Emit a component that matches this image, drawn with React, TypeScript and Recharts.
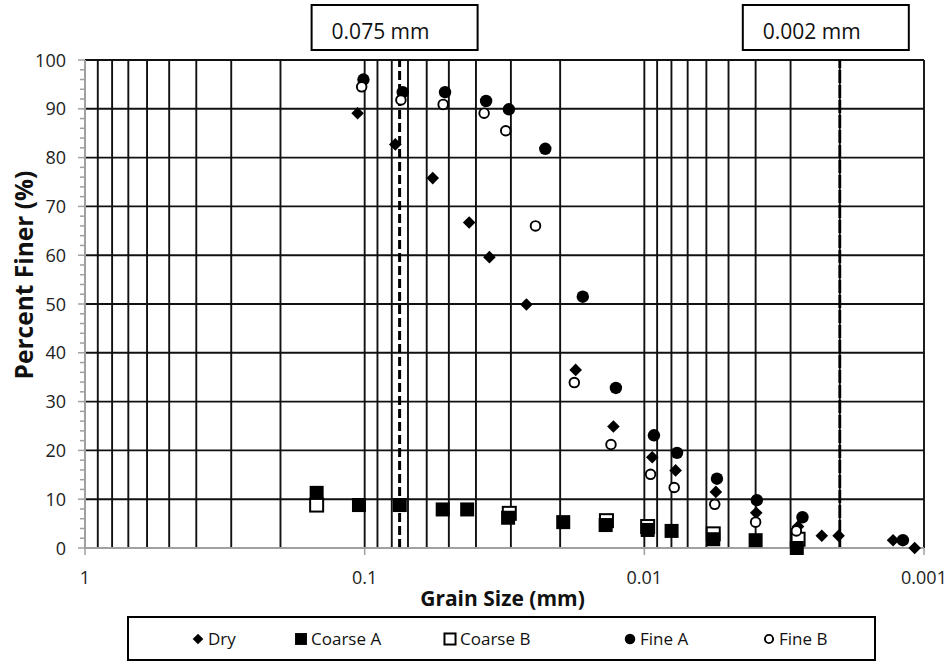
import React from 'react';
import {
  ScatterChart,
  Scatter,
  XAxis,
  YAxis,
  CartesianGrid,
  ReferenceLine,
  Legend,
} from 'recharts';

const FONT = '"Open Sans", "DejaVu Sans", sans-serif';
const INK = '#000000';
const AXIS_GREY = '#a0a0a0';
const GRID = '#111111';

// Grain size (mm) and percent finer for each specimen
const drySize = [0.106, 0.0777, 0.0571, 0.0423, 0.0358, 0.0264, 0.0176, 0.0129, 0.00937, 0.00773, 0.00555, 0.00398, 0.00282, 0.00232, 0.00202, 0.00129, 0.00108];
const dryFiner = [89.1, 82.7, 75.8, 66.7, 59.6, 49.9, 36.5, 24.9, 18.6, 15.9, 11.5, 7.2, 4.4, 2.5, 2.5, 1.6, 0];

const coarseASize = [0.1485, 0.1048, 0.0749, 0.0526, 0.043, 0.0307, 0.0195, 0.01375, 0.00973, 0.00799, 0.00567, 0.004, 0.00285];
const coarseAFiner = [11.3, 8.8, 8.8, 7.9, 7.9, 6.2, 5.3, 4.7, 3.7, 3.5, 1.8, 1.6, 0];

const coarseBSize = [0.1485, 0.0304, 0.01366, 0.00973, 0.00567, 0.00282];
const coarseBFiner = [8.8, 7.1, 5.6, 4.4, 2.9, 1.8];

const fineASize = [0.101, 0.0731, 0.0516, 0.0368, 0.0305, 0.0226, 0.0166, 0.01264, 0.00924, 0.00764, 0.0055, 0.00396, 0.00272, 0.00119];
const fineAFiner = [96.0, 93.4, 93.4, 91.6, 89.9, 81.8, 51.5, 32.8, 23.1, 19.5, 14.2, 9.8, 6.3, 1.6];

const fineBSize = [0.1025, 0.0742, 0.0524, 0.0374, 0.0313, 0.0245, 0.0178, 0.01316, 0.0095, 0.00782, 0.0056, 0.004, 0.00286];
const fineBFiner = [94.5, 91.8, 90.9, 89.1, 85.5, 66.0, 33.9, 21.2, 15.1, 12.4, 8.95, 5.3, 3.5];

// Axis ticks and grid positions
const xTicks = [1, 0.1, 0.01, 0.001];
const xTickLabels = ['1', '0.1', '0.01', '0.001'];
const xGridValues = [
  0.9, 0.8, 0.7, 0.6, 0.5, 0.4, 0.3, 0.2, 0.1,
  0.09, 0.08, 0.07, 0.06, 0.05, 0.04, 0.03, 0.02, 0.01,
  0.009, 0.008, 0.007, 0.006, 0.005, 0.004, 0.003, 0.002, 0.001,
];
const yMajorTicks = [0, 10, 20, 30, 40, 50, 60, 70, 80, 90, 100];
const yMinorTicks = [
  0, 2, 4, 6, 8, 10, 12, 14, 16, 18, 20, 22, 24, 26, 28, 30, 32, 34, 36, 38, 40,
  42, 44, 46, 48, 50, 52, 54, 56, 58, 60, 62, 64, 66, 68, 70, 72, 74, 76, 78, 80,
  82, 84, 86, 88, 90, 92, 94, 96, 98, 100,
];

const toPoints = (sizes: number[], finer: number[]) =>
  sizes.map((size, i) => ({ size, finer: finer[i] }));

type MarkerKind = 'diamond' | 'square' | 'squareOpen' | 'circle' | 'circleOpen';

const series: { name: string; kind: MarkerKind; data: { size: number; finer: number }[] }[] = [
  { name: 'Dry', kind: 'diamond', data: toPoints(drySize, dryFiner) },
  { name: 'Coarse A', kind: 'square', data: toPoints(coarseASize, coarseAFiner) },
  { name: 'Coarse B', kind: 'squareOpen', data: toPoints(coarseBSize, coarseBFiner) },
  { name: 'Fine A', kind: 'circle', data: toPoints(fineASize, fineAFiner) },
  { name: 'Fine B', kind: 'circleOpen', data: toPoints(fineBSize, fineBFiner) },
];

// Painting order: open squares beneath filled squares, open circles above filled circles
const drawOrder = ['Dry', 'Coarse B', 'Coarse A', 'Fine A', 'Fine B'];

const Marker = ({ kind, cx, cy, scale = 1 }: { kind: MarkerKind; cx: number; cy: number; scale?: number }) => {
  switch (kind) {
    case 'diamond': {
      const s = 6.3 * scale;
      return <path d={`M${cx},${cy - s}L${cx + s},${cy}L${cx},${cy + s}L${cx - s},${cy}Z`} fill={INK} />;
    }
    case 'square': {
      const s = 14 * scale;
      return <rect x={cx - s / 2} y={cy - s / 2} width={s} height={s} fill={INK} />;
    }
    case 'squareOpen': {
      const s = 13 * scale;
      return <rect x={cx - s / 2} y={cy - s / 2} width={s} height={s} fill="#fff" stroke={INK} strokeWidth={2} />;
    }
    case 'circle':
      return <circle cx={cx} cy={cy} r={6.2 * scale} fill={INK} />;
    case 'circleOpen':
    default:
      return <circle cx={cx} cy={cy} r={4.8 * scale} fill="#fff" stroke={INK} strokeWidth={1.9} />;
  }
};

const YTick = (props: any) => {
  const { x, y, payload } = props;
  const major = payload.value % 10 === 0;
  return (
    <g>
      <line x1={x - (major ? 7 : 5)} x2={x} y1={y} y2={y} stroke={AXIS_GREY} strokeWidth={1.5} />
      {major && (
        <text x={x - 19} y={y + 6.5} textAnchor="end" fontFamily={FONT} fontSize={18} fill="#222">
          {payload.value}
        </text>
      )}
    </g>
  );
};

const XTick = (props: any) => {
  const { x, y, payload, index } = props;
  return (
    <g>
      <line x1={x} x2={x} y1={y} y2={y + 7} stroke={AXIS_GREY} strokeWidth={1.5} />
      <text x={x} y={y + 36} textAnchor="middle" fontFamily={FONT} fontSize={18} fill="#222">
        {xTickLabels[xTicks.indexOf(payload.value)] ?? String(payload.value ?? index)}
      </text>
    </g>
  );
};

const XTitle = (props: any) => {
  const { viewBox } = props;
  return (
    <text
      x={viewBox.x + viewBox.width / 2 - 2}
      y={viewBox.y + 58}
      textAnchor="middle"
      fontFamily={FONT}
      fontWeight={700}
      fontSize={21}
      fill="#111"
    >
      Grain Size (mm)
    </text>
  );
};

const YTitle = (props: any) => {
  const { viewBox } = props;
  const cx = viewBox.x + 33;
  const cy = viewBox.y + 215;
  return (
    <text
      x={cx}
      y={cy}
      transform={`rotate(-90 ${cx} ${cy})`}
      textAnchor="middle"
      fontFamily={FONT}
      fontWeight={700}
      fontSize={24.5}
      fill="#111"
    >
      Percent Finer (%)
    </text>
  );
};

const CutoffTag = (props: any) => {
  const { viewBox, text, shift } = props;
  const left = viewBox.x + shift;
  const top = viewBox.y - 55;
  return (
    <g>
      <rect x={left} y={top} width={166} height={45} fill="#fff" stroke={INK} strokeWidth={2} />
      <text x={left + 20} y={top + 34} fontFamily={FONT} fontSize={21} fill="#111">
        {text}
      </text>
    </g>
  );
};

// Legend item anchor offsets inside the legend frame
const legendOffsets = [62, 165, 314, 494, 633];

const LegendBox = () => (
  <div
    style={{
      position: 'relative',
      width: 749,
      height: 45,
      boxSizing: 'border-box',
      border: `2px solid ${INK}`,
      background: '#fff',
      fontFamily: FONT,
      fontSize: 17,
      color: '#111',
    }}
  >
    {series.map((s, i) => (
      <div
        key={s.name}
        style={{
          position: 'absolute',
          left: legendOffsets[i],
          top: 0,
          height: 41,
          display: 'flex',
          alignItems: 'center',
          whiteSpace: 'nowrap',
        }}
      >
        <svg width={14} height={14} style={{ marginRight: 3 }}>
          <Marker kind={s.kind} cx={7} cy={7} scale={0.85} />
        </svg>
        <span>{s.name}</span>
      </div>
    ))}
  </div>
);

export default function App() {
  return (
    <div style={{ position: 'absolute', left: 0, top: 0, width: 951, height: 663, background: '#fff' }}>
      <ScatterChart width={951} height={663} margin={{ top: 60, right: 27, bottom: 0, left: 0 }}>
        <CartesianGrid
          stroke={GRID}
          strokeWidth={1.9}
          horizontalValues={yMajorTicks.filter((v) => v > 0)}
          verticalValues={xGridValues}
        />
        <XAxis
          type="number"
          dataKey="size"
          scale="log"
          domain={[0.001, 1]}
          reversed
          ticks={xTicks}
          interval={0}
          height={115}
          tickSize={0}
          tickMargin={0}
          tickLine={false}
          axisLine={{ stroke: AXIS_GREY, strokeWidth: 2 }}
          tick={<XTick />}
          label={<XTitle />}
        />
        <YAxis
          type="number"
          dataKey="finer"
          domain={[0, 100]}
          ticks={yMinorTicks}
          interval={0}
          width={85}
          tickSize={0}
          tickMargin={0}
          tickLine={false}
          axisLine={{ stroke: AXIS_GREY, strokeWidth: 2 }}
          tick={<YTick />}
          label={<YTitle />}
        />
        <ReferenceLine
          x={0.075}
          stroke={INK}
          strokeWidth={3}
          strokeDasharray="9 4"
          label={<CutoffTag text="0.075 mm" shift={-88} />}
        />
        <ReferenceLine
          x={0.002}
          stroke={INK}
          strokeWidth={2.8}
          strokeDasharray="13 2"
          label={<CutoffTag text="0.002 mm" shift={-97} />}
        />
        {drawOrder.map((name) => {
          const s = series.find((d) => d.name === name)!;
          return (
            <Scatter
              key={s.name}
              name={s.name}
              data={s.data}
              isAnimationActive={false}
              shape={(p: any) => <Marker kind={s.kind} cx={p.cx} cy={p.cy} />}
            />
          );
        })}
        <Legend
          layout="horizontal"
          verticalAlign="middle"
          align="center"
          wrapperStyle={{ left: 127, top: 616, width: 749, height: 45 }}
          content={() => <LegendBox />}
        />
      </ScatterChart>
    </div>
  );
}
